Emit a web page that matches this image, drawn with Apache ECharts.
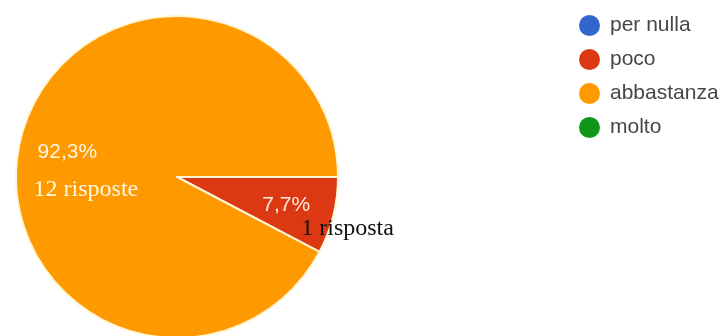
<!DOCTYPE html>
<html>
<head>
<meta charset="utf-8">
<style>
  html, body { margin: 0; padding: 0; background: #ffffff; }
  #chart { width: 725px; height: 336px; }
</style>
<script src="https://cdn.jsdelivr.net/npm/echarts@6/dist/echarts.min.js"></script>
</head>
<body>
<div id="chart"></div>
<script>
// Answer options and number of responses for each
const categories = ['per nulla', 'poco', 'abbastanza', 'molto'];
const responses = [0, 1, 12, 0];
const sliceColors = ['#3366cc', '#dc3912', '#ff9900', '#109618'];

const total = responses.reduce((a, b) => a + b, 0);

function pctText(v) {
  return (v / total * 100).toFixed(1).replace('.', ',') + '%';
}
function countText(v) {
  return v + (v === 1 ? ' risposta' : ' risposte');
}

const SANS = 'Liberation Sans, Arial, sans-serif';
const SERIF = 'Liberation Serif, Times New Roman, serif';

// Per-slice label look: big slice keeps both lines light, small slice has a dark count line
const labelStyles = {
  abbastanza: {
    rich: {
      pct: { fontFamily: SANS, fontSize: 21, color: '#fff6dc', align: 'left', lineHeight: 37, padding: [0, 0, 0, 4] },
      cnt: { fontFamily: SERIF, fontSize: 24, color: '#fff6dc', align: 'left', lineHeight: 37 }
    },
    shift: [-10, 14]
  },
  poco: {
    rich: {
      pct: { fontFamily: SANS, fontSize: 21, color: '#fde9e0', align: 'left', lineHeight: 24 },
      cnt: { fontFamily: SERIF, fontSize: 24, color: '#111111', align: 'left', lineHeight: 24, padding: [0, 0, 0, 39] }
    },
    shift: [70, 20]
  }
};

const pieData = categories.map((name, i) => {
  const v = responses[i];
  const style = labelStyles[name];
  return {
    name: name,
    value: v,
    itemStyle: { color: sliceColors[i] },
    label: style && v > 0 ? {
      show: true,
      formatter: '{pct|' + pctText(v) + '}\n{cnt|' + countText(v) + '}',
      rich: style.rich
    } : { show: false }
  };
});

const chart = echarts.init(document.getElementById('chart'), null, { renderer: 'canvas' });

chart.setOption({
  animation: false,
  legend: {
    orient: 'vertical',
    left: 579,
    top: 15,
    padding: 0,
    icon: 'circle',
    itemWidth: 21,
    itemHeight: 21,
    itemGap: 13,
    itemStyle: { borderWidth: 0 },
    textStyle: {
      fontFamily: SANS,
      fontSize: 21,
      color: '#464646',
      padding: [0, 0, 0, 5]
    },
    data: categories
  },
  series: [{
    type: 'pie',
    center: [177, 177],
    radius: 161,
    startAngle: 0,
    clockwise: true,
    avoidLabelOverlap: false,
    silent: true,
    itemStyle: { borderColor: '#fff6d8', borderWidth: 2 },
    label: { position: 'inside' },
    labelLine: { show: false },
    labelLayout: function (params) {
      const style = labelStyles[categories[params.dataIndex]];
      if (!style) return {};
      return { dx: style.shift[0], dy: style.shift[1] };
    },
    data: pieData
  }]
});
</script>
</body>
</html>
